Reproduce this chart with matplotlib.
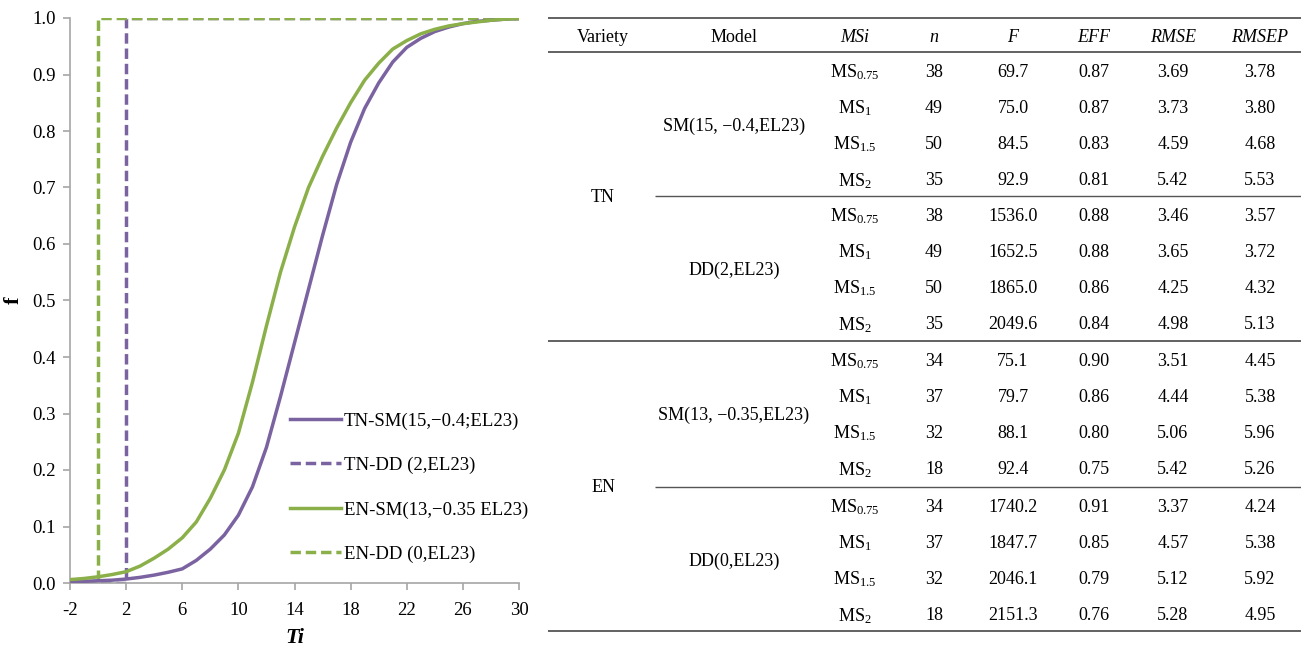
import matplotlib
matplotlib.use("Agg")
import matplotlib.pyplot as plt
from matplotlib.ticker import FormatStrFormatter, MultipleLocator

plt.rcParams['font.family'] = ['Liberation Serif', 'DejaVu Serif']
plt.rcParams['axes.unicode_minus'] = False
plt.rcParams['mathtext.fontset'] = 'custom'
plt.rcParams['mathtext.rm'] = 'Liberation Serif'
plt.rcParams['mathtext.it'] = 'Liberation Serif:italic'
plt.rcParams['mathtext.bf'] = 'Liberation Serif:bold'

# --- curve data ---
ti = list(range(-2, 31))
tn_sm = [0.002, 0.003, 0.004, 0.005, 0.007, 0.010, 0.014, 0.019, 0.025, 0.040,
         0.060, 0.085, 0.120, 0.170, 0.240, 0.330, 0.425, 0.520, 0.615, 0.705,
         0.780, 0.840, 0.885, 0.922, 0.948, 0.964, 0.976, 0.984, 0.990, 0.994,
         0.996, 0.998, 0.999]
en_sm = [0.006, 0.008, 0.011, 0.015, 0.020, 0.030, 0.044, 0.060, 0.080, 0.108,
         0.150, 0.200, 0.265, 0.355, 0.455, 0.550, 0.630, 0.700, 0.755, 0.805,
         0.850, 0.890, 0.920, 0.945, 0.960, 0.972, 0.980, 0.986, 0.990, 0.993,
         0.996, 0.998, 0.999]
tn_dd_x = [-2, 2, 2, 30]
tn_dd_y = [0, 0, 1, 1]
en_dd_x = [-2, 0, 0, 30]
en_dd_y = [0, 0, 1, 1]
x_ticks = [-2, 2, 6, 10, 14, 18, 22, 26, 30]

# --- table data ---
headers = ['Variety', 'Model', 'MSi', 'n', 'F', 'EFF', 'RMSE', 'RMSEP']
header_italic = [False, False, True, True, True, True, True, True]
varieties = ['TN', 'EN']
models = ['SM(15, −0.4,EL23)', 'DD(2,EL23)', 'SM(13, −0.35,EL23)', 'DD(0,EL23)']
msi = ['MS$_{0.75}$', 'MS$_{1}$', 'MS$_{1.5}$', 'MS$_{2}$']
n_vals = [[38, 49, 50, 35], [38, 49, 50, 35], [34, 37, 32, 18], [34, 37, 32, 18]]
f_vals = [['69.7', '75.0', '84.5', '92.9'],
          ['1536.0', '1652.5', '1865.0', '2049.6'],
          ['75.1', '79.7', '88.1', '92.4'],
          ['1740.2', '1847.7', '2046.1', '2151.3']]
eff_vals = [['0.87', '0.87', '0.83', '0.81'],
            ['0.88', '0.88', '0.86', '0.84'],
            ['0.90', '0.86', '0.80', '0.75'],
            ['0.91', '0.85', '0.79', '0.76']]
rmse_vals = [['3.69', '3.73', '4.59', '5.42'],
             ['3.46', '3.65', '4.25', '4.98'],
             ['3.51', '4.44', '5.06', '5.42'],
             ['3.37', '4.57', '5.12', '5.28']]
rmsep_vals = [['3.78', '3.80', '4.68', '5.53'],
              ['3.57', '3.72', '4.32', '5.13'],
              ['4.45', '5.38', '5.96', '5.26'],
              ['4.24', '5.38', '5.92', '4.95']]

purple = '#7b63a1'
green = '#8bb04a'
grey = '#a6a6a6'

fig = plt.figure(figsize=(13.01, 6.5), dpi=100)

# ---------------- chart ----------------
ax = fig.add_axes([70 / 1301, 67 / 650, 449 / 1301, 565 / 650])
ax.plot(ti, tn_sm, color=purple, lw=2.5, label='TN-SM(15,−0.4;EL23)', zorder=3)
ax.plot(tn_dd_x, tn_dd_y, color=purple, lw=2.5, ls=(0, (3, 1.4)),
        label='TN-DD (2,EL23)', zorder=2)
ax.plot(ti, en_sm, color=green, lw=2.5, label='EN-SM(13,−0.35 EL23)', zorder=3)
ax.plot(en_dd_x, en_dd_y, color=green, lw=2.5, ls=(0, (3, 1.4)),
        label='EN-DD (0,EL23)', zorder=2)

ax.set_xlim(-2, 30)
ax.set_ylim(0, 1)
ax.set_xticks(x_ticks)
ax.yaxis.set_major_locator(MultipleLocator(0.1))
ax.yaxis.set_major_formatter(FormatStrFormatter('%.1f'))
for s in ['top', 'right']:
    ax.spines[s].set_visible(False)
for s in ['left', 'bottom']:
    ax.spines[s].set_color(grey)
    ax.spines[s].set_linewidth(1.2)
ax.tick_params(axis='both', colors=grey, labelcolor='black', labelsize=13.5,
               length=5, width=1.2, direction='out')
ax.tick_params(axis='x', pad=8.5)
ax.tick_params(axis='y', pad=5)
ax.set_xlabel('Ti', fontsize=16, fontweight='bold', style='italic', labelpad=7)
ax.set_ylabel('f', fontsize=16, fontweight='bold', labelpad=6)

leg = ax.legend(loc='lower right', bbox_to_anchor=(1.037, 0.022), frameon=False,
                fontsize=13.5, handlelength=2.7, handletextpad=0.15,
                labelspacing=1.45, borderaxespad=0.0)

# ---------------- table ----------------
tx = fig.add_axes([0, 0, 1, 1])
tx.set_xlim(0, 1301)
tx.set_ylim(650, 0)
tx.axis('off')

col_x = [603, 734, 855, 934, 1013, 1094, 1173, 1260]
rule_c = '#555555'
fs = 13

tx.hlines(18, 548, 1301, color=rule_c, lw=1.3)
tx.hlines(52, 548, 1301, color=rule_c, lw=1.3)
tx.hlines([196, 487], 655, 1301, color=rule_c, lw=1.0)
tx.hlines(341, 548, 1301, color=rule_c, lw=1.3)
tx.hlines(631, 548, 1301, color=rule_c, lw=1.3)

for x, h, it in zip(col_x, headers, header_italic):
    tx.text(x, 37, h, ha='center', va='center', fontsize=fs,
            style='italic' if it else 'normal')

block_top = [52, 196, 341, 487]
row_h = 36.2
for b in range(4):
    rows_y = [block_top[b] + row_h * (i + 0.5) + 2 for i in range(4)]
    tx.text(col_x[1], (rows_y[1] + rows_y[2]) / 2, models[b], ha='center',
            va='center', fontsize=fs)
    for i in range(4):
        y = rows_y[i]
        tx.text(col_x[2], y, msi[i], ha='center', va='center', fontsize=fs)
        cells = [str(n_vals[b][i]), f_vals[b][i], eff_vals[b][i],
                 rmse_vals[b][i], rmsep_vals[b][i]]
        for x, c in zip(col_x[3:], cells):
            tx.text(x, y, c, ha='center', va='center', fontsize=fs)

for v, y in zip(varieties, [197, 488]):
    tx.text(col_x[0], y, v, ha='center', va='center', fontsize=fs)

plt.savefig('out.png', dpi=100)
